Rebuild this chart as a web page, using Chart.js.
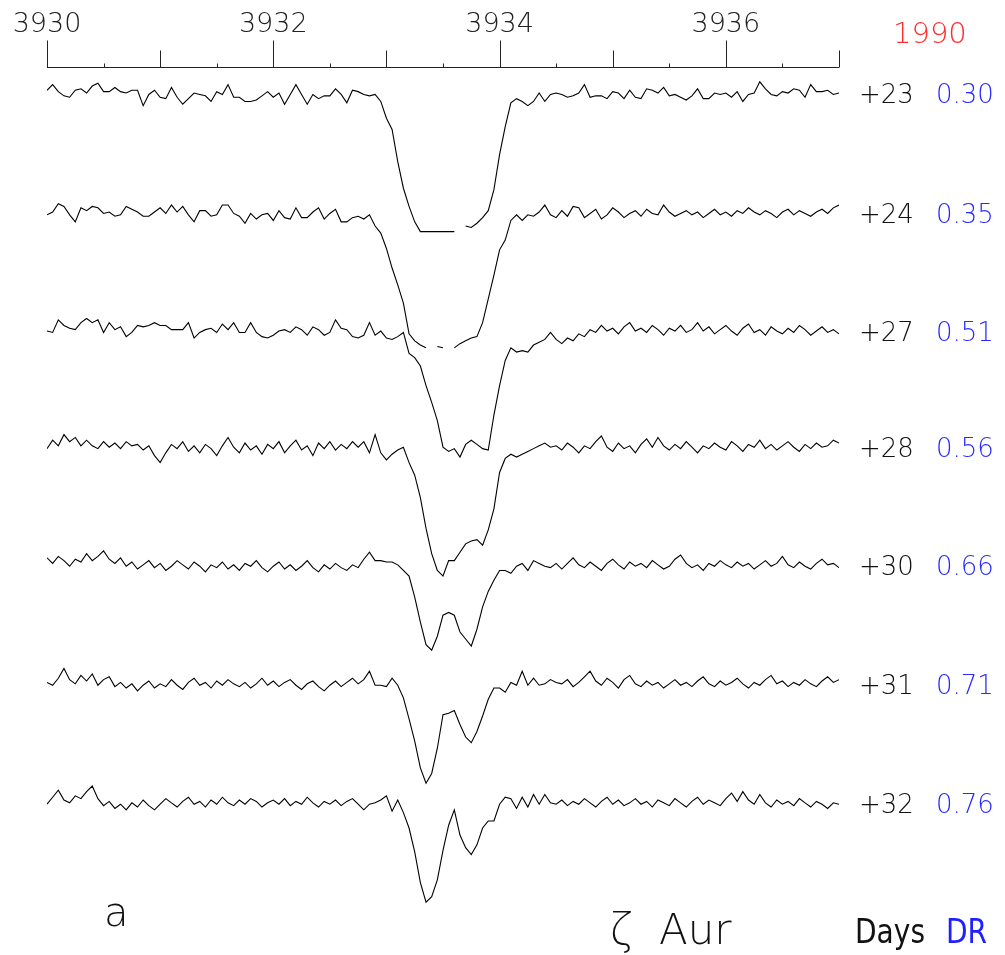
<!DOCTYPE html>
<html>
<head>
<meta charset="utf-8">
<script src="https://cdn.jsdelivr.net/npm/chart.js@4.4.0/dist/chart.umd.min.js"></script>
<style>
  html, body { margin: 0; padding: 0; background: #fff; }
  canvas { display: block; }
</style>
</head>
<body>
<canvas id="spectra" width="1005" height="955"></canvas>
<script>
// Ca II K region, residual intensity in % of continuum, sampled every 0.05 A from 3930 A
const lambdaStart = 3930;
const lambdaStep = 0.05;
const axisLabels = [3930, 3932, 3934, 3936];
const days = ['+23', '+24', '+27', '+28', '+30', '+31', '+32'];
const phases = ['0.30', '0.35', '0.51', '0.56', '0.66', '0.71', '0.76'];
// vertical shift of each spectrum, in the same % units
const offsets = [0, 86, 170, 253, 337, 422, 507];

const spec23 = [
  102,106,101,98,97,102,103,100,105,107,
  101,101,104,101,100,102,102,91,99,102,
  97,96,104,97,92,96,100,99,98,94,
  101,99,106,97,97,94,94,95,98,101,
  97,100,92,99,106,99,92,99,96,98,
  98,103,99,93,102,101,99,98,99,94,
  82,74,51,32,19,8,1,1,1,1,
  1,1,1,null,5,4,7,11,16,31,
  56,76,93,96,94,91,94,100,94,99,
  100,99,97,98,100,106,97,98,98,96,
  101,100,96,102,97,96,103,102,100,104,
  98,99,97,95,98,103,96,96,100,99,
  100,97,101,94,99,100,108,103,99,98,
  101,100,103,102,97,106,101,101,102,99,
  100
];
const spec24 = [
  99,101,107,105,99,94,104,102,105,104,
  100,101,98,99,105,103,101,98,98,101,
  104,100,106,101,105,99,94,102,102,98,
  99,106,106,100,98,93,100,96,99,100,
  95,102,97,96,104,97,97,101,104,96,
  100,103,94,94,97,98,96,99,91,86,
  75,61,49,36,14,9,6,4,null,5,
  4,null,4,7,9,11,12,22,39,56,
  74,81,95,99,95,99,98,101,106,99,
  97,102,98,105,104,97,100,103,96,99,
  104,101,97,100,102,98,103,100,99,106,
  101,98,100,102,99,101,97,100,103,99,
  101,98,102,100,104,101,99,102,100,97,
  101,103,99,102,100,98,101,103,100,104,
  106
];
const spec27 = [
  100,99,108,104,102,101,106,109,106,108,
  99,106,101,103,96,99,104,103,104,106,
  104,104,101,101,101,106,95,99,101,102,
  99,105,101,106,99,99,106,99,96,95,
  97,100,101,99,103,101,97,103,101,97,
  99,108,102,101,96,95,97,106,97,100,
  95,94,96,99,84,81,75,61,49,36,
  17,14,16,10,19,22,19,16,15,40,
  61,79,88,85,86,85,90,92,94,99,
  94,91,95,93,98,96,101,99,104,100,
  102,98,103,106,100,102,99,104,101,97,
  102,100,104,99,101,106,100,103,98,101,
  104,100,97,102,105,99,101,97,103,100,
  98,102,99,104,101,97,100,103,99,101,
  98
];
const spec28 = [
  99,105,101,109,104,107,101,105,101,99,
  104,100,103,99,104,101,102,98,101,94,
  89,96,102,99,104,97,101,96,102,99,
  94,101,107,100,96,103,98,101,95,102,
  99,104,96,101,105,98,101,94,103,99,
  104,98,102,99,104,100,104,96,109,96,
  91,95,98,100,89,80,64,42,24,12,
  8,19,19,25,31,33,34,30,41,56,
  82,92,95,93,95,97,99,101,103,100,
  101,98,103,100,96,101,99,104,108,100,
  97,103,99,101,96,102,106,100,107,101,
  98,102,99,104,100,96,101,99,103,100,
  98,104,101,97,102,100,105,99,102,98,
  101,104,100,97,102,99,103,100,101,105,
  103
];
const spec30 = [
  105,101,106,103,99,104,102,108,103,106,
  110,104,101,105,99,102,97,100,103,98,
  101,96,99,103,100,97,102,99,95,100,
  98,102,97,100,96,101,99,103,98,95,
  99,102,97,100,96,99,103,98,95,100,
  97,101,98,96,100,98,104,109,103,103,
  102,102,100,96,92,77,59,43,39,49,
  64,66,64,52,47,42,54,70,81,89,
  96,96,94,99,101,96,103,101,99,98,
  101,97,101,105,100,98,102,99,96,101,
  104,100,97,102,99,101,98,103,100,97,
  99,104,107,101,98,100,96,101,99,103,
  100,98,102,99,101,97,100,103,99,101,
  106,100,98,102,99,97,101,104,100,101,
  98
];
const spec31 = [
  101,99,104,111,103,100,106,102,107,99,
  103,105,98,101,97,100,95,99,102,97,
  100,98,103,99,96,101,104,99,101,97,
  102,99,103,100,98,101,97,100,104,99,
  102,98,101,103,99,96,100,102,98,95,
  99,102,98,101,104,100,103,109,99,99,
  98,104,99,90,75,59,40,29,36,54,
  78,79,81,71,62,58,66,77,89,97,
  97,94,101,99,109,99,104,99,100,103,
  101,100,103,98,101,105,109,102,99,104,
  101,97,103,106,100,98,102,99,101,97,
  100,103,99,101,98,102,105,100,98,102,
  99,101,104,100,97,101,99,103,106,100,
  102,98,101,99,103,100,98,102,105,101,
  103
];
const spec32 = [
  99,104,109,102,100,105,103,108,112,103,
  98,101,96,99,95,100,97,102,98,95,
  99,103,100,97,101,104,99,101,97,102,
  99,104,100,98,102,99,103,101,97,100,
  102,99,103,98,101,99,104,100,97,101,
  99,102,98,101,103,99,95,99,100,102,
  105,94,102,93,82,65,43,29,33,45,
  66,84,95,77,68,63,70,82,87,87,
  99,104,103,96,104,97,106,99,106,100,
  99,102,98,101,99,103,100,97,101,104,
  99,102,98,100,103,99,101,97,102,100,
  98,103,100,97,101,104,99,102,100,98,
  103,107,101,108,102,99,106,100,97,102,
  99,101,98,103,100,97,101,99,96,100,
  99
];
const spectra = [spec23, spec24, spec27, spec28, spec30, spec31, spec32];

const wavelengths = spec23.map((_, i) => +(lambdaStart + i * lambdaStep).toFixed(2));

const datasets = spectra.map((flux, k) => ({
  label: days[k],
  data: flux.map((f, i) => ({ x: wavelengths[i], y: f === null ? null : f - offsets[k] })),
  borderColor: '#000',
  borderWidth: 1.1,
  pointRadius: 0,
  tension: 0,
  spanGaps: false,
  fill: false
}));

const thinFont = '"DejaVu Sans", "Liberation Sans", sans-serif';

// draws text squeezed horizontally (the plot's caption font is a narrow one)
function narrowText(ctx, text, x, y, squeeze) {
  ctx.save();
  ctx.translate(x, y);
  ctx.scale(squeeze, 1);
  ctx.fillText(text, 0, 0);
  ctx.restore();
}

// top wavelength axis, day / phase labels and captions
const annotations = {
  id: 'annotations',
  afterDraw(chart) {
    const ctx = chart.ctx;
    const xs = chart.scales.x;
    const ys = chart.scales.y;
    const axisY = Math.round(chart.chartArea.top) + 0.5;
    ctx.save();

    ctx.strokeStyle = '#222';
    ctx.lineWidth = 1;
    ctx.beginPath();
    ctx.moveTo(xs.getPixelForValue(xs.min), axisY);
    ctx.lineTo(xs.getPixelForValue(xs.max), axisY);
    const nTicks = Math.round((xs.max - xs.min) / 0.5);
    for (let i = 0; i <= nTicks; i++) {
      const px = Math.round(xs.getPixelForValue(xs.min + i * 0.5)) + 0.5;
      const len = i % 4 === 0 ? 27 : (i % 2 === 0 ? 17 : 4);
      ctx.moveTo(px, axisY);
      ctx.lineTo(px, axisY - len);
    }
    ctx.stroke();

    ctx.fillStyle = '#222';
    ctx.font = '200 27px ' + thinFont;
    ctx.textAlign = 'center';
    ctx.textBaseline = 'alphabetic';
    axisLabels.forEach(v => ctx.fillText(String(v), xs.getPixelForValue(v), 32));

    ctx.textAlign = 'left';
    ctx.fillStyle = '#ff2d2d';
    ctx.font = '200 29px ' + thinFont;
    ctx.fillText('1990', 893, 43);

    ctx.font = '200 26px ' + thinFont;
    ctx.textBaseline = 'middle';
    days.forEach((d, k) => {
      const y = ys.getPixelForValue(100 - offsets[k]) + 3;
      ctx.fillStyle = '#111';
      ctx.fillText(d, 859, y);
      ctx.fillStyle = '#2b2bff';
      ctx.fillText(phases[k], 936, y);
    });

    ctx.textBaseline = 'alphabetic';
    ctx.fillStyle = '#111';
    ctx.font = '200 40px ' + thinFont;
    ctx.fillText('a', 104, 926);
    ctx.font = '200 42px ' + thinFont;
    ctx.fillText('\u03b6', 610, 944);
    ctx.fillText('Aur', 659, 944);

    ctx.font = '33px ' + thinFont;
    narrowText(ctx, 'Days', 855, 943, 0.85);
    ctx.fillStyle = '#1f1fff';
    narrowText(ctx, 'DR', 946, 943, 0.85);
    ctx.restore();
  }
};

new Chart(document.getElementById('spectra'), {
  type: 'line',
  data: { datasets },
  options: {
    responsive: false,
    animation: false,
    devicePixelRatio: 1,
    layout: { padding: { left: 47, right: 166, top: 67, bottom: 0 } },
    plugins: { legend: { display: false }, tooltip: { enabled: false } },
    scales: {
      x: { type: 'linear', min: 3930, max: 3937, display: false },
      y: { min: -515.7, max: 118.6, display: false }
    }
  },
  plugins: [annotations]
});
</script>
</body>
</html>
